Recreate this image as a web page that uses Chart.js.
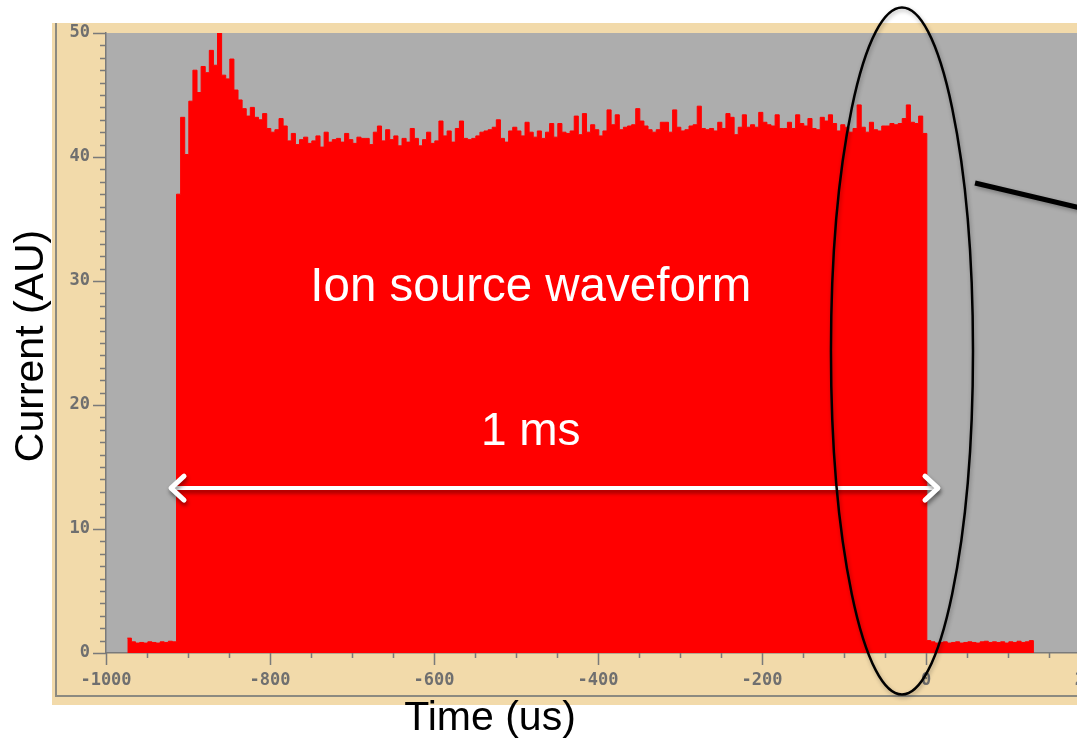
<!DOCTYPE html>
<html lang="en">
  <head>
    <meta charset="UTF-8" />
    <title>Ion source waveform</title>
    <script src="https://cdn.jsdelivr.net/npm/chart.js"></script>
    <style>
      html, body { margin: 0; padding: 0; background: #fff; overflow: hidden; }
      canvas { display: block; }
    </style>
  </head>
  <body>
    <canvas id="waveChart" width="1200" height="740"></canvas>

    <script>
      // histogram bins, 5 us wide, first bin starts at -974 us
      const binWidth = 5;
      const firstBin = -974;

      // baseline before the pulse
      const preValues = [1.2, 0.9, 0.8, 0.85, 0.8, 0.9, 0.85, 0.8, 0.9, 0.85, 0.95, 0.9];

      // the pulse itself (-914 .. 0 us)
      const pulseValues = [
        37.0, 43.2, 40.2, 44.5, 47.0, 45.2, 47.3, 46.8, 48.6, 47.4,
        50.0, 46.6, 46.3, 47.9, 45.4, 44.6, 43.9, 43.3, 44.0, 43.2,
        43.0, 43.5, 42.3, 42.0, 42.2, 43.1, 42.5, 41.3, 41.9, 41.0,
        41.4, 41.6, 41.1, 41.3, 41.7, 40.8, 42.0, 41.2, 41.4, 41.5,
        41.2, 41.9, 41.4, 41.1, 41.6, 41.5, 41.5, 41.0, 42.0, 42.5,
        41.3, 42.2, 41.4, 41.7, 40.9, 41.5, 41.2, 42.3,
        41.5, 40.9, 41.4, 42.0, 41.1, 41.3, 42.9, 41.7, 42.1, 41.2,
        42.3, 42.9, 41.5, 41.4, 41.5, 41.7, 42.0, 42.1, 42.2, 42.4,
        43.0, 41.5, 41.2, 42.1, 42.4, 42.1, 41.7, 42.8, 42.0, 41.6,
        42.1, 41.5, 42.0, 42.7, 41.6, 42.7, 42.0, 41.9, 42.1, 43.3,
        41.8, 43.5, 42.0, 42.6, 42.2, 41.7, 42.1, 43.8, 42.6, 43.4,
        42.2, 42.4, 42.5, 42.6, 43.9, 42.9, 42.5, 42.2, 42.0, 42.2,
        42.8, 42.8, 42.0,
        43.8, 42.4, 42.1, 42.2, 42.5, 42.6, 44.1, 42.3, 42.2, 42.3,
        42.1, 42.8, 42.3, 43.5, 43.2, 41.8, 42.4, 43.4, 42.4, 42.6,
        42.4, 43.6, 42.8, 42.6, 42.5, 43.4, 42.3, 42.3, 42.8, 42.3,
        43.4, 42.7, 42.5, 43.1, 42.3, 42.2, 43.2, 42.9, 43.4, 42.7,
        42.1, 42.6, 42.4, 42.0, 42.3, 44.2, 42.4, 42.0, 42.8, 42.2,
        42.1, 42.5, 42.5, 42.7, 42.6, 42.7, 43.1, 44.2, 42.8, 42.7,
        43.3, 41.9,
      ];

      // baseline after the pulse
      const postValues = [
        1.0, 0.9, 0.8, 0.85, 0.9, 0.8, 0.85, 0.9, 0.8, 0.85, 0.9, 0.85, 0.8,
        0.9, 0.95, 0.85, 0.9, 0.85, 0.9, 0.8, 0.9, 0.85, 0.95, 0.85, 0.9, 1.0,
      ];

      const xLabels = [-1000, -800, -600, -400, -200, 0, 200];
      const yLabels = [0, 10, 20, 30, 40, 50];

      const allValues = preValues.concat(pulseValues, postValues);
      const points = allValues.map((v, i) => ({ x: firstBin + i * binWidth, y: v }));
      points.push({ x: firstBin + allValues.length * binWidth, y: 0 });

      const tan = "#F2DAAA";
      const axisGrey = "#7a7a7a";
      const tickFont = { family: "'DejaVu Sans Mono', monospace", size: 17, weight: "bold" };

      const decor = {
        id: "decor",
        beforeDraw(chart) {
          const { ctx, chartArea: a } = chart;
          ctx.save();
          ctx.fillStyle = "#fff";
          ctx.fillRect(0, 0, chart.width, chart.height);
          ctx.fillStyle = tan;
          ctx.fillRect(52, 23, chart.width - 52, 682);
          ctx.strokeStyle = "#8c8a80";
          ctx.lineWidth = 2;
          ctx.beginPath();
          ctx.moveTo(56, 23);
          ctx.lineTo(56, 696);
          ctx.lineTo(chart.width, 696);
          ctx.stroke();
          ctx.fillStyle = "#ADADAD";
          ctx.fillRect(a.left, a.top, a.right - a.left, a.bottom - a.top);
          ctx.restore();
        },
        afterDraw(chart) {
          const { ctx, chartArea: a } = chart;
          const x = chart.scales.x;
          const y = chart.scales.y;
          ctx.save();

          // tick marks, long ones at the labelled values
          ctx.strokeStyle = axisGrey;
          ctx.lineWidth = 1.5;
          ctx.beginPath();
          x.ticks.forEach((t) => {
            const px = Math.round(x.getPixelForValue(t.value)) + 0.5;
            const len = xLabels.includes(t.value) ? 12 : 5;
            ctx.moveTo(px, a.bottom);
            ctx.lineTo(px, a.bottom + len);
          });
          y.ticks.forEach((t) => {
            const py = Math.round(y.getPixelForValue(t.value)) + 0.5;
            const len = yLabels.includes(t.value) ? 13 : 6;
            ctx.moveTo(a.left - len, py);
            ctx.lineTo(a.left, py);
          });
          ctx.stroke();

          // axis titles
          ctx.fillStyle = "#000";
          ctx.font = "41px 'Liberation Sans', Arial, sans-serif";
          ctx.textAlign = "center";
          ctx.textBaseline = "alphabetic";
          ctx.fillText("Time (us)", 490, 730);
          ctx.save();
          ctx.translate(43, 346);
          ctx.rotate(-Math.PI / 2);
          ctx.fillText("Current (AU)", 0, 0);
          ctx.restore();

          // labels inside the plot
          ctx.fillStyle = "#fff";
          ctx.font = "47.5px 'Liberation Sans', Arial, sans-serif";
          ctx.fillText("Ion source waveform", x.getPixelForValue(-482), y.getPixelForValue(28.4));
          ctx.font = "46px 'Liberation Sans', Arial, sans-serif";
          ctx.fillText("1 ms", x.getPixelForValue(-482), y.getPixelForValue(16.8));

          // 1 ms double arrow
          ctx.shadowColor = "rgba(0,0,0,0.45)";
          ctx.shadowBlur = 4;
          ctx.shadowOffsetX = 1;
          ctx.shadowOffsetY = 3;
          const ay = y.getPixelForValue(13.3);
          const ax1 = x.getPixelForValue(-920.7);
          const ax2 = x.getPixelForValue(14.6);
          ctx.strokeStyle = "#fff";
          ctx.lineCap = "round";
          ctx.lineJoin = "round";
          ctx.lineWidth = 4;
          ctx.beginPath();
          ctx.moveTo(ax1 + 2, ay);
          ctx.lineTo(ax2 - 2, ay);
          ctx.stroke();
          ctx.lineWidth = 5;
          ctx.beginPath();
          ctx.moveTo(ax1 + 13, ay - 12);
          ctx.lineTo(ax1, ay);
          ctx.lineTo(ax1 + 13, ay + 12);
          ctx.moveTo(ax2 - 13, ay - 12);
          ctx.lineTo(ax2, ay);
          ctx.lineTo(ax2 - 13, ay + 12);
          ctx.stroke();

          // ellipse around the pulse end
          ctx.shadowColor = "rgba(0,0,0,0.3)";
          ctx.shadowOffsetX = 1;
          ctx.shadowOffsetY = 2;
          ctx.strokeStyle = "#000";
          ctx.lineWidth = 2.5;
          const cx = x.getPixelForValue(-29.3);
          const cy = y.getPixelForValue(24.35);
          const rx = x.getPixelForValue(-29.3 + 86.6) - cx;
          const ry = y.getPixelForValue(24.35) - y.getPixelForValue(24.35 + 27.7);
          ctx.beginPath();
          ctx.ellipse(cx, cy, rx, ry, 0, 0, Math.PI * 2);
          ctx.stroke();

          // pointer line to the right
          ctx.lineWidth = 5;
          ctx.lineCap = "butt";
          ctx.beginPath();
          ctx.moveTo(x.getPixelForValue(59.8), y.getPixelForValue(37.9));
          ctx.lineTo(x.getPixelForValue(334), y.getPixelForValue(33.6));
          ctx.stroke();

          ctx.restore();
        },
      };

      const ctx = document.getElementById("waveChart").getContext("2d");
      new Chart(ctx, {
        type: "line",
        data: {
          datasets: [
            {
              label: "Current",
              data: points,
              stepped: true,
              fill: "origin",
              backgroundColor: "#FF0000",
              borderColor: "#FF0000",
              borderWidth: 1,
              pointRadius: 0,
            },
          ],
        },
        options: {
          responsive: false,
          animation: false,
          layout: { padding: { left: 46, top: 33, right: 69, bottom: 44 } },
          plugins: {
            legend: { display: false },
            tooltip: { enabled: false },
          },
          scales: {
            x: {
              type: "linear",
              min: -1000,
              max: 250,
              afterFit: (s) => { s.height = 43; },
              grid: { drawOnChartArea: false, drawTicks: false },
              border: { color: axisGrey, width: 1.5 },
              ticks: {
                stepSize: 50,
                autoSkip: false,
                maxRotation: 0,
                padding: 17,
                color: "#6f6f6f",
                font: tickFont,
                callback: (v) => (xLabels.includes(v) ? String(v) : ""),
              },
            },
            y: {
              min: 0,
              max: 50,
              afterFit: (s) => { s.width = 60; },
              grid: { drawOnChartArea: false, drawTicks: false },
              border: { color: axisGrey, width: 1.5 },
              ticks: {
                stepSize: 1,
                autoSkip: false,
                padding: 16,
                color: "#6f6f6f",
                font: tickFont,
                callback: (v) => (yLabels.includes(v) ? String(v) : ""),
              },
            },
          },
        },
        plugins: [decor],
      });
    </script>
  </body>
</html>
